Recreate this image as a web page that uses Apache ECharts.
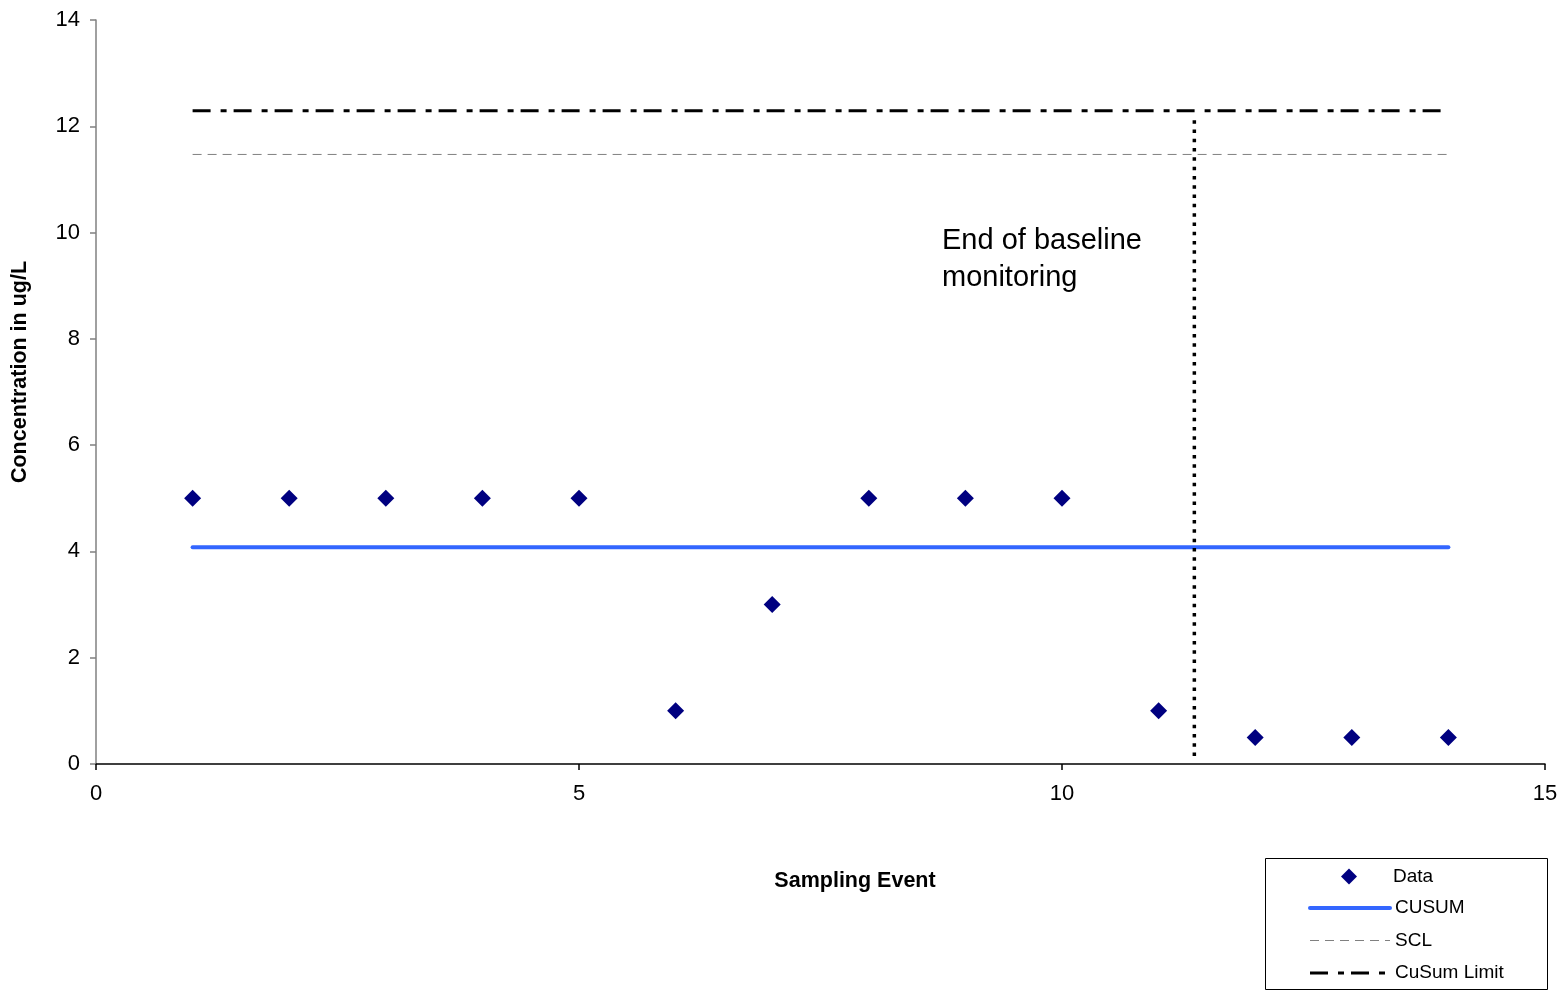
<!DOCTYPE html>
<html>
<head>
<meta charset="utf-8">
<title>CUSUM control chart</title>
<script src="https://cdn.jsdelivr.net/npm/echarts@6/dist/echarts.min.js"></script>
<style>
  html, body { margin: 0; padding: 0; background: #fff; }
  #chart { width: 1562px; height: 991px; }
</style>
</head>
<body>
<div id="chart"></div>
<script>
// Sampling events and measured concentrations (ug/L)
const samplingEvents = [1, 2, 3, 4, 5, 6, 7, 8, 9, 10, 11, 12, 13, 14];
const concentrations = [5, 5, 5, 5, 5, 1, 3, 5, 5, 5, 1, 0.5, 0.5, 0.5];

// Reference levels drawn across the monitoring period
const levelSpan = [1, 14];
const cusumLevel = 4.08;
const sclLevel = 11.47;
const cusumLimitLevel = 12.29;

// End of baseline monitoring marker
const baselineEndEvent = 11.37;
const baselineEndRange = [0.15, 12.2];

const seriesNames = ['Data', 'CUSUM', 'SCL', 'CuSum Limit'];
const annotationText = 'End of baseline\nmonitoring';

const FONT = '"Liberation Sans", Arial, sans-serif';

// Line styles shared by the series and their legend entries
const cusumStyle = { color: '#3366FF', width: 4, type: 'solid', cap: 'round' };
const sclStyle = { color: '#808080', width: 1, type: [9, 6] };
const limitStyle = { color: '#000000', width: 3, type: [18, 10, 6, 7] };

const flat = (level) => levelSpan.map((x) => [x, level]);

const chart = echarts.init(document.getElementById('chart'), null, { renderer: 'canvas' });

chart.setOption({
  animation: false,
  backgroundColor: '#ffffff',
  textStyle: { fontFamily: FONT },
  grid: { left: 96, right: 17, top: 20, bottom: 227, containLabel: false },
  xAxis: {
    type: 'value',
    min: 0, max: 15, interval: 5,
    axisLine: { show: true, onZero: false, lineStyle: { color: '#000000', width: 1.5 } },
    axisTick: { show: true, inside: false, length: 6, lineStyle: { color: '#000000', width: 1.5 } },
    axisLabel: { color: '#000000', fontSize: 22, fontFamily: FONT, margin: 19 },
    splitLine: { show: false }
  },
  yAxis: {
    type: 'value',
    min: 0, max: 14, interval: 2,
    axisLine: { show: true, onZero: false, lineStyle: { color: '#808080', width: 1.5 } },
    axisTick: { show: true, inside: false, length: 6, lineStyle: { color: '#808080', width: 1.5 } },
    axisLabel: { color: '#000000', fontSize: 22, fontFamily: FONT, margin: 16 },
    splitLine: { show: false }
  },
  legend: [
    {
      data: [seriesNames[0]],
      orient: 'vertical',
      left: 1341, top: 867,
      padding: 0,
      itemWidth: 16, itemHeight: 16,
      icon: 'diamond',
      itemStyle: { color: '#000080', opacity: 1 },
      textStyle: { color: '#000000', fontSize: 19, fontFamily: FONT, padding: [0, 0, 0, 31] }
    },
    {
      data: [
        { name: seriesNames[1], lineStyle: cusumStyle },
        { name: seriesNames[2], lineStyle: sclStyle },
        { name: seriesNames[3], lineStyle: limitStyle }
      ],
      orient: 'vertical',
      left: 1308, top: 898,
      padding: 0,
      itemWidth: 80, itemHeight: 20, itemGap: 12.5,
      itemStyle: { opacity: 0, borderWidth: 0 },
      textStyle: { color: '#000000', fontSize: 19, fontFamily: FONT, lineHeight: 20 }
    }
  ],
  graphic: [
    {
      type: 'rect',
      shape: { x: 1265.5, y: 858.5, width: 282, height: 131 },
      style: { fill: 'none', stroke: '#000000', lineWidth: 1 },
      z: 10
    },
    {
      type: 'text',
      x: 855, y: 881,
      style: {
        text: 'Sampling Event', fill: '#000000',
        font: 'bold 21.5px ' + FONT, align: 'center', verticalAlign: 'middle'
      }
    },
    {
      type: 'text',
      x: 20, y: 372, rotation: Math.PI / 2,
      style: {
        text: 'Concentration in ug/L', fill: '#000000',
        font: 'bold 21.5px ' + FONT, align: 'center', verticalAlign: 'middle'
      }
    },
    {
      type: 'text',
      x: 942, y: 222,
      style: {
        text: annotationText, fill: '#000000',
        font: '29px ' + FONT, lineHeight: 37, align: 'left', verticalAlign: 'top'
      }
    }
  ],
  series: [
    {
      name: seriesNames[0],
      type: 'scatter',
      data: samplingEvents.map((x, i) => [x, concentrations[i]]),
      symbol: 'diamond',
      symbolSize: [17, 17],
      itemStyle: { color: '#000080', opacity: 1 },
      z: 5
    },
    {
      name: seriesNames[1],
      type: 'line',
      data: flat(cusumLevel),
      symbol: 'none',
      lineStyle: cusumStyle,
      itemStyle: { color: cusumStyle.color },
      z: 3
    },
    {
      name: seriesNames[2],
      type: 'line',
      data: flat(sclLevel),
      symbol: 'none',
      lineStyle: sclStyle,
      itemStyle: { color: sclStyle.color },
      z: 3
    },
    {
      name: seriesNames[3],
      type: 'line',
      data: flat(cusumLimitLevel),
      symbol: 'none',
      lineStyle: limitStyle,
      itemStyle: { color: limitStyle.color },
      z: 3
    },
    {
      name: 'baseline end',
      type: 'line',
      data: baselineEndRange.map((y) => [baselineEndEvent, y]),
      symbol: 'none',
      lineStyle: { color: '#000000', width: 3.5, type: [3.5, 5.8] },
      z: 4
    }
  ]
});
</script>
</body>
</html>
